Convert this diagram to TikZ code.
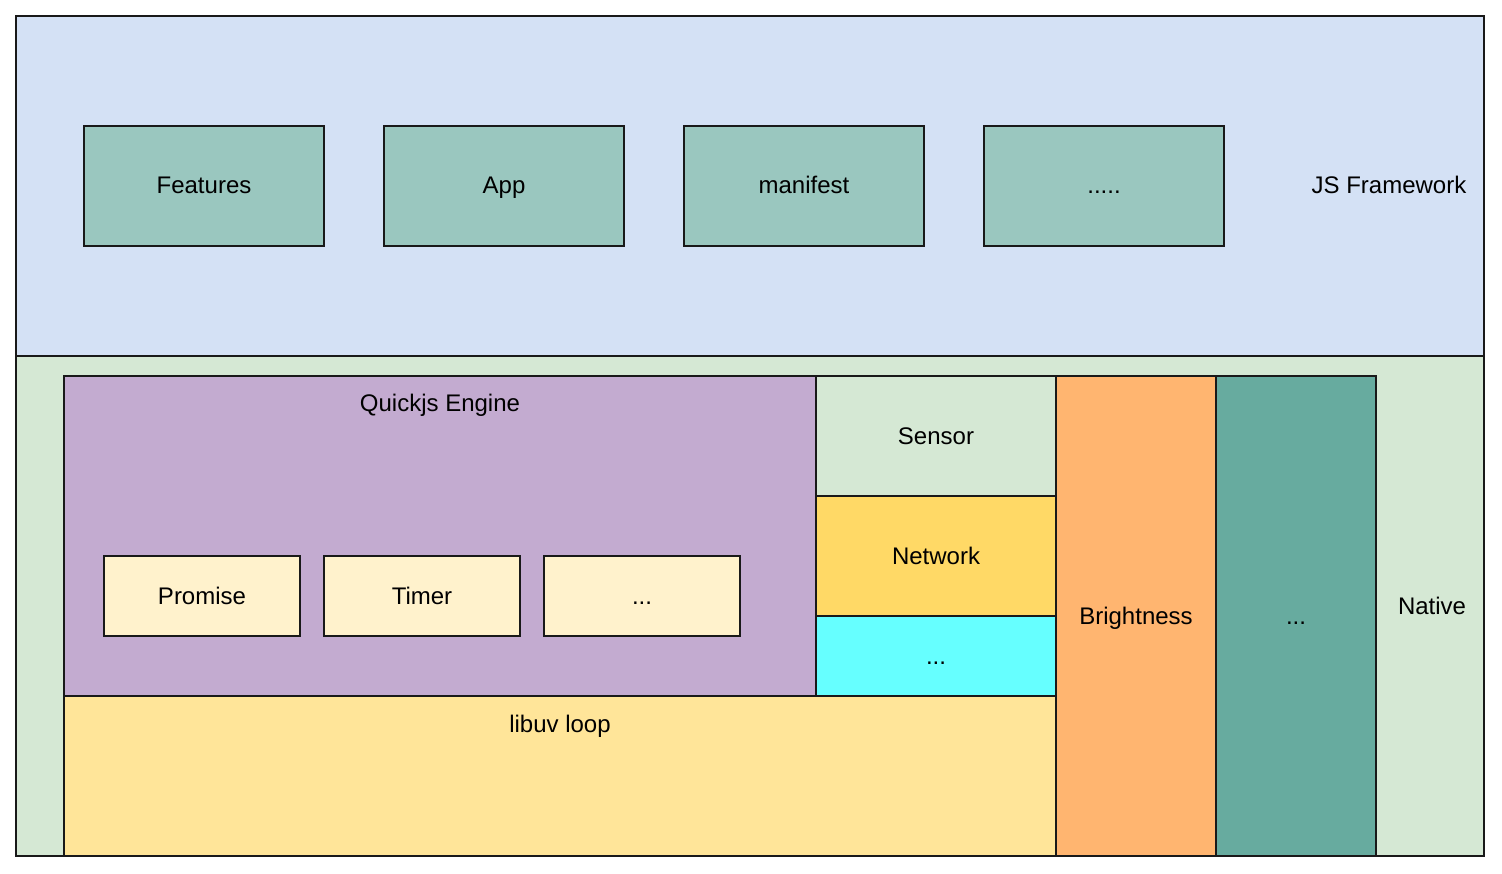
\documentclass[tikz,border=0pt]{standalone}
\usepackage{fontspec}
\setmainfont{Liberation Sans}
\definecolor{jsbg}{HTML}{D4E1F5}
\definecolor{natbg}{HTML}{D5E8D4}
\definecolor{teal1}{HTML}{9AC7BF}
\definecolor{purp}{HTML}{C3ABD0}
\definecolor{cream}{HTML}{FFF2CC}
\definecolor{netw}{HTML}{FFD966}
\definecolor{cyanb}{HTML}{66FFFF}
\definecolor{libuv}{HTML}{FFE599}
\definecolor{bright}{HTML}{FFB570}
\definecolor{teal2}{HTML}{67AB9F}
\tikzset{
  blk/.style={draw=black!90, line width=1.5pt},
  lbl/.style={font=\fontsize{24}{28}\selectfont, text=black, inner sep=0pt,
    text height=18pt, text depth=2pt},
}
\begin{document}
\begin{tikzpicture}[x=1pt,y=-1pt]
\useasboundingbox (0,0) rectangle (1502,874);
% panels
\filldraw[blk, fill=jsbg] (16,16) rectangle (1484,356);
\filldraw[blk, fill=natbg] (16,356) rectangle (1484,856);
% JS framework boxes
\filldraw[blk, fill=teal1] (84,126) rectangle (324,246);
\filldraw[blk, fill=teal1] (384,126) rectangle (624,246);
\filldraw[blk, fill=teal1] (684,126) rectangle (924,246);
\filldraw[blk, fill=teal1] (984,126) rectangle (1224,246);
\node[lbl] (features) at (204,186) {Features};
\node[lbl] (app) at (504,186) {App};
\node[lbl] (manifest) at (804,186) {manifest};
\node[lbl] (jsmore) at (1104,186) {.....};
\node[lbl] (jsfw) at (1389,186) {JS Framework};
% native
\filldraw[blk, fill=purp] (64,376) rectangle (816,696);
\node[lbl] (quickjs) at (440,404) {Quickjs Engine};
\filldraw[blk, fill=cream] (104,556) rectangle (300,636);
\filldraw[blk, fill=cream] (324,556) rectangle (520,636);
\filldraw[blk, fill=cream] (544,556) rectangle (740,636);
\node[lbl] (promise) at (202,596) {Promise};
\node[lbl] (timer) at (422,596) {Timer};
\node[lbl] (qjsmore) at (642,596) {...};
\filldraw[blk, fill=natbg] (816,376) rectangle (1056,496);
\filldraw[blk, fill=netw] (816,496) rectangle (1056,616);
\filldraw[blk, fill=cyanb] (816,616) rectangle (1056,696);
\node[lbl] (sensor) at (936,436) {Sensor};
\node[lbl] (network) at (936,556) {Network};
\node[lbl] (devmore) at (936,656) {...};
\filldraw[blk, fill=libuv] (64,696) rectangle (1056,856);
\node[lbl] (libuvl) at (560,724) {libuv loop};
\filldraw[blk, fill=bright] (1056,376) rectangle (1216,856);
\node[lbl] (brightness) at (1136,616) {Brightness};
\filldraw[blk, fill=teal2] (1216,376) rectangle (1376,856);
\node[lbl] (natmore) at (1296,616) {...};
\node[lbl] (native) at (1432,606) {Native};
\end{tikzpicture}
\end{document}
